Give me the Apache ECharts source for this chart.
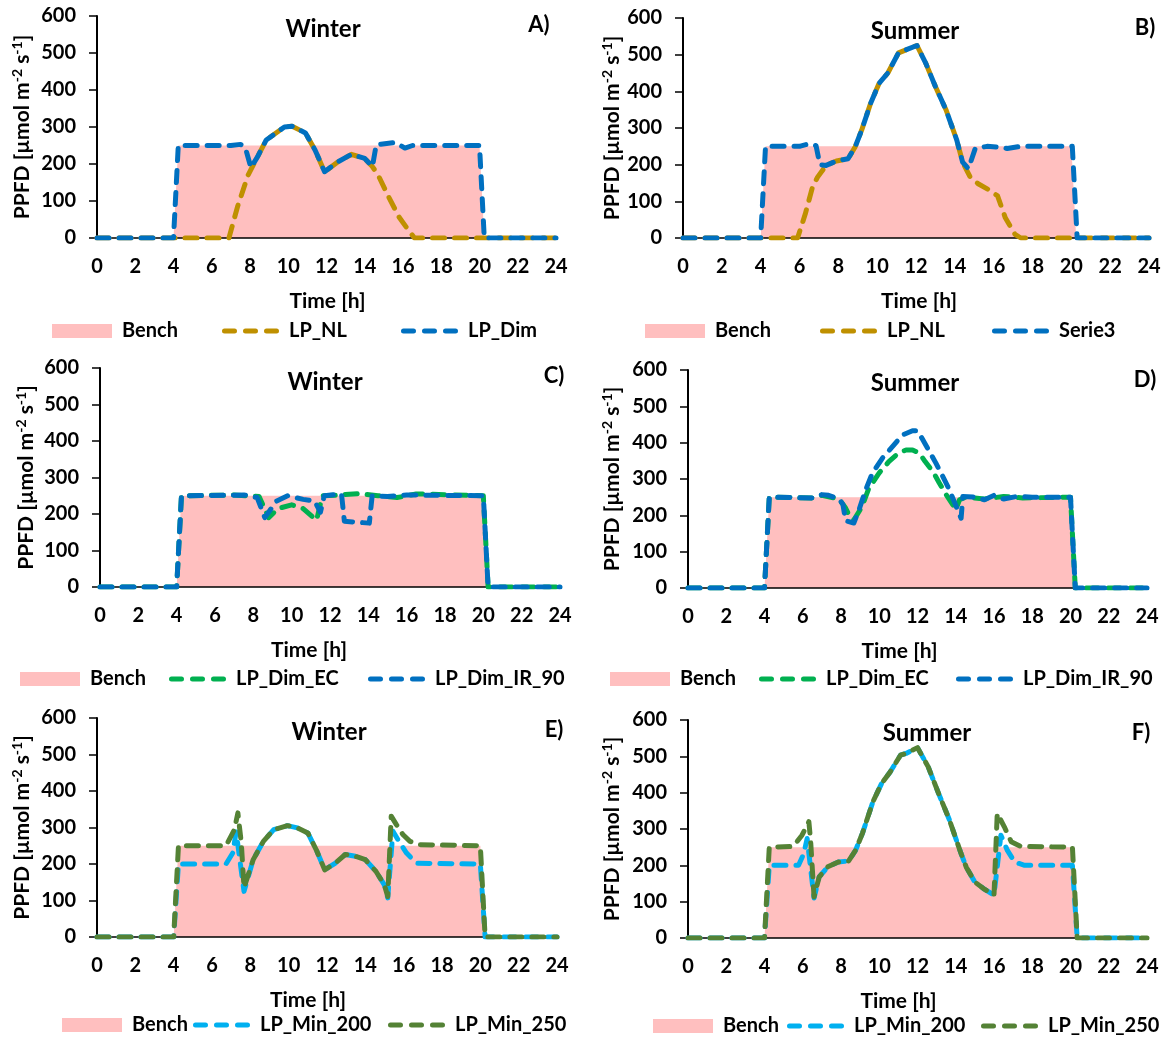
<!DOCTYPE html>
<html>
<head>
<meta charset="utf-8">
<script src="https://cdn.jsdelivr.net/npm/echarts@6/dist/echarts.min.js"></script>
<style>
html, body { margin: 0; padding: 0; background: #fff; }
#chart { width: 1173px; height: 1038px; }
</style>
</head>
<body>
<div id="chart"></div>
<script>
// [hour, PPFD] pairs
var bench = [[0,0],[4,0],[4.25,250],[20,250],[20.25,0],[24,0]];

// A) winter
var aMid = [[8.4,220],[8.85,265],[9.8,300],[10.2,302],[10.9,284],[11.4,238],[11.9,179],[12.6,206],[13.3,226],[14,215],[14.4,193]];
var aNL = [[0,0],[6.9,0],[7.35,85],[7.9,170],[8.1,190]].concat(aMid, [[14.7,170],[15.25,111],[15.8,56],[16.3,20],[16.6,0],[24,0]]);
var aDim = [[0,0],[4,0],[4.25,250],[7,250],[7.5,253],[7.75,245],[8.05,190]].concat(aMid, [[14.6,252],[15.6,258],[16.1,243],[16.5,250],[20,250],[20.25,0],[24,0]]);

// B) summer
var bMid = [[7.37,198],[7.9,210],[8.5,216],[8.87,249],[9.2,294],[9.66,367],[10.1,422],[10.55,450],[11.1,505],[12.05,525],[12.5,477],[13,413],[13.55,349],[14.1,267],[14.4,207]];
var bNL = [[0,0],[5.9,0],[6.3,66],[6.67,139],[6.93,166]].concat(bMid, [[14.8,165],[15.2,148],[15.7,133],[16.2,115],[16.6,55],[17.1,10],[17.4,0],[24,0]]);
var bS3 = [[0,0],[4,0],[4.25,250],[6,250],[6.5,257],[6.85,252],[7.05,200]].concat(bMid, [[14.7,189],[15.05,244],[15.66,250],[16.4,247],[16.7,244],[17.4,250],[20.05,250],[20.3,0],[24,0]]);

// C) winter
var cEC = [[0,0],[4,0],[4.25,250],[7,252],[8.3,248],[8.8,190],[9.3,215],[10,225],[10.6,215],[11.3,183],[11.6,250],[12.5,252],[13.5,256],[14.5,250],[15.5,245],[16.5,255],[20,250],[20.25,0],[24,0]];
var cIR = [[0,0],[4,0],[4.25,250],[7.5,252],[8.2,245],[8.6,190],[9.2,235],[9.8,250],[10.6,240],[11.2,235],[11.5,205],[11.7,250],[12.6,255],[12.75,180],[14.05,175],[14.2,250],[15,248],[16,252],[20,250],[20.25,0],[24,0]];

// D) summer
var dEC = [[0,0],[4,0],[4.25,250],[6.5,248],[7,255],[7.9,245],[8.24,220],[8.5,192],[8.67,187],[9.1,224],[9.46,275],[9.99,316],[10.5,348],[11,371],[11.4,380],[11.74,380],[12.1,371],[12.4,348],[12.8,321],[13.14,289],[13.5,257],[13.85,229],[14,215],[14.2,243],[14.5,250],[15.5,245],[16.5,252],[17.5,248],[20,250],[20.25,0],[24,0]];
var dIR = [[0,0],[4,0],[4.25,250],[6.5,248],[7,257],[7.35,255],[7.9,245],[8.1,230],[8.24,185],[8.67,179],[8.94,215],[9.29,270],[9.64,316],[10.16,357],[10.69,389],[11.21,421],[11.74,433],[12,433],[12.18,417],[12.62,376],[12.97,343],[13.32,307],[13.67,270],[14.02,225],[14.28,192],[14.37,252],[15,250],[15.5,243],[16,255],[16.5,245],[17.2,252],[18,250],[20,250],[20.25,0],[24,0]];

// E) winter
var eMid = [[8.15,212],[8.68,262],[9.22,294],[9.93,305],[10.46,299],[11,285],[11.44,239],[11.88,184],[12.42,202],[12.95,226],[13.48,221],[14,212],[14.55,180],[14.99,143]];
var e200 = [[0,0],[4,0],[4.25,200],[6.73,200],[7.08,230],[7.26,288],[7.67,125]].concat(eMid, [[15.17,107],[15.44,290],[15.8,258],[16.15,230],[16.68,202],[20,200],[20.25,0],[24,0]]);
var e250 = [[0,0],[4,0],[4.25,250],[6.73,250],[7.17,294],[7.35,340],[7.53,257],[7.67,135]].concat(eMid, [[15.17,111],[15.35,331],[15.62,308],[15.97,280],[16.33,262],[16.86,253],[20,250],[20.25,0],[24,0]]);

// F) summer
var fMid = [[6.86,168],[7.31,196],[7.86,209],[8.4,212],[8.76,241],[9.12,288],[9.67,375],[10.12,425],[10.57,457],[11.11,503],[11.4,508],[12,524],[12.56,471],[13.1,398],[13.64,329],[14.28,232],[14.55,195],[15,154],[15.45,136],[16,118]];
var f200 = [[0,0],[4,0],[4.25,200],[5.78,200],[6.05,232],[6.23,274],[6.59,110]].concat(fMid, [[16.36,283],[16.7,241],[17.08,209],[17.6,200],[20.1,200],[20.35,0],[24,0]]);
var f250 = [[0,0],[4,0],[4.25,250],[5.5,252],[5.96,283],[6.32,320],[6.41,269],[6.59,113]].concat(fMid, [[16.17,343],[16.54,306],[16.9,265],[17.4,252],[20.1,250],[20.35,0],[24,0]]);

var xTicks = [0, 24, 2];
var yTicks = [0, 600, 100];

var PINK = '#ffbfbf', GOLD = '#bf9000', BLUE = '#0070c0', GREEN = '#00b050', SKY = '#00b0f0', OLIVE = '#548235';
var FONT = 'Lato';

var panels = [
  {grid: {left: 97, top: 16, width: 459, height: 222}, title: 'Winter', tpos: [323, 29], letter: 'A)', lpos: [539, 25],
   timeShift: 1, nameGap: 62, legendY: 333, legendX: [52, 222, 401],
   series: [['Bench', bench, PINK], ['LP_NL', aNL, GOLD], ['LP_Dim', aDim, BLUE]]},
  {grid: {left: 683, top: 18, width: 466, height: 220}, title: 'Summer', tpos: [915, 31], letter: 'B)', lpos: [1145, 28],
   timeShift: 3, nameGap: 58, legendY: 333, legendX: [645, 820, 992],
   series: [['Bench', bench, PINK], ['LP_NL', bNL, GOLD], ['Serie3', bS3, BLUE]]},
  {grid: {left: 100, top: 368, width: 460, height: 219}, title: 'Winter', tpos: [325, 382], letter: 'C)', lpos: [554, 376],
   timeShift: -21, nameGap: 61, legendY: 681, legendX: [20, 169, 368],
   series: [['Bench', bench, PINK], ['LP_Dim_EC', cEC, GREEN], ['LP_Dim_IR_90', cIR, BLUE]]},
  {grid: {left: 688, top: 370, width: 459, height: 218}, title: 'Summer', tpos: [915, 383], letter: 'D)', lpos: [1145, 380],
   timeShift: -18, nameGap: 63, legendY: 681, legendX: [610, 759, 956],
   series: [['Bench', bench, PINK], ['LP_Dim_EC', dEC, GREEN], ['LP_Dim_IR_90', dIR, BLUE]]},
  {grid: {left: 97, top: 718, width: 460, height: 219}, title: 'Winter', tpos: [329, 732], letter: 'E)', lpos: [554, 730],
   timeShift: -19, nameGap: 62, legendY: 1027, legendX: [62, 193, 388],
   series: [['Bench', bench, PINK], ['LP_Min_200', e200, SKY], ['LP_Min_250', e250, OLIVE]]},
  {grid: {left: 688, top: 720, width: 459, height: 218}, title: 'Summer', tpos: [927, 733], letter: 'F)', lpos: [1141, 733],
   timeShift: -19, nameGap: 63, legendY: 1028, legendX: [653, 787, 981],
   series: [['Bench', bench, PINK], ['LP_Min_200', f200, SKY], ['LP_Min_250', f250, OLIVE]]}
];

var dashIcon = 'path://M2.5,0h10a2.5,2.5 0 0 1 0,5h-10a2.5,2.5 0 0 1 0,-5z' +
  'M23.5,0h10a2.5,2.5 0 0 1 0,5h-10a2.5,2.5 0 0 1 0,-5z' +
  'M44.5,0h10a2.5,2.5 0 0 1 0,5h-10a2.5,2.5 0 0 1 0,-5z';

var labelStyle = {fontFamily: FONT, fontWeight: 'bold', fontSize: 20, color: '#000'};

var grids = [], xAxes = [], yAxes = [], series = [], legends = [], texts = [];

panels.forEach(function (p, i) {
  grids.push(Object.assign({containLabel: false, outerBoundsMode: 'none'}, p.grid));

  var sh = p.timeShift;
  xAxes.push({
    type: 'value', gridIndex: i, min: xTicks[0], max: xTicks[1], interval: xTicks[2],
    z: 1.5,
    name: 'Time [h]', nameLocation: 'middle', nameGap: 53,
    nameTextStyle: {fontFamily: FONT, fontWeight: 'bold', fontSize: 21, color: '#000',
      padding: sh < 0 ? [0, -2 * sh, 0, 0] : [0, 0, 0, 2 * sh]},
    axisLine: {show: true, lineStyle: {color: '#000', width: 1.5}},
    axisTick: {show: false},
    splitLine: {show: false},
    axisLabel: Object.assign({margin: 19, showMinLabel: true, showMaxLabel: true}, labelStyle)
  });

  yAxes.push({
    type: 'value', gridIndex: i, min: yTicks[0], max: yTicks[1], interval: yTicks[2],
    z: 1.5,
    name: '{t|PPFD [µmol m}{s|-2}{t| s}{s|-1}{t|]}',
    nameLocation: 'middle', nameRotate: 90, nameGap: p.nameGap,
    nameTextStyle: {
      rich: {
        t: {fontFamily: FONT, fontWeight: 'bold', fontSize: 21, lineHeight: 25, color: '#000'},
        s: {fontFamily: FONT, fontWeight: 'bold', fontSize: 14, lineHeight: 15, verticalAlign: 'top', color: '#000'}
      }
    },
    axisLine: {show: true, lineStyle: {color: '#000', width: 2}},
    axisTick: {show: true, inside: false, length: 8, lineStyle: {color: '#000', width: 1.5}},
    splitLine: {show: false},
    axisLabel: Object.assign({margin: 21}, labelStyle)
  });

  p.series.forEach(function (s, k) {
    var isBench = k === 0;
    series.push({
      name: s[0], type: 'line', xAxisIndex: i, yAxisIndex: i,
      data: s[1], color: s[2], symbol: 'none', silent: true, animation: false,
      z: isBench ? 1 : 2 + k,
      lineStyle: isBench ? {width: 0} : {width: 5, type: [12, 10], cap: 'round', join: 'round'},
      areaStyle: isBench ? {color: s[2], opacity: 1} : null
    });
    legends.push({
      data: [{name: s[0], icon: isBench ? 'rect' : dashIcon, itemStyle: {color: s[2]}}],
      left: p.legendX[k], top: p.legendY - 12, padding: 0,
      itemWidth: isBench ? 60 : 57, itemHeight: isBench ? 14 : 5,
      selectedMode: false,
      textStyle: Object.assign({padding: [0, 0, 0, 5]}, labelStyle)
    });
  });

  texts.push({type: 'text', x: p.tpos[0], y: p.tpos[1],
    style: {text: p.title, fill: '#000', font: 'bold 24px ' + FONT, align: 'center', verticalAlign: 'middle'}});
  texts.push({type: 'text', x: p.lpos[0], y: p.lpos[1],
    style: {text: p.letter, fill: '#000', font: 'bold 22px ' + FONT, align: 'center', verticalAlign: 'middle'}});
});

var chart = echarts.init(document.getElementById('chart'));
chart.setOption({
  backgroundColor: '#fff',
  animation: false,
  grid: grids,
  xAxis: xAxes,
  yAxis: yAxes,
  legend: legends,
  series: series,
  graphic: {elements: texts}
});
</script>
</body>
</html>
